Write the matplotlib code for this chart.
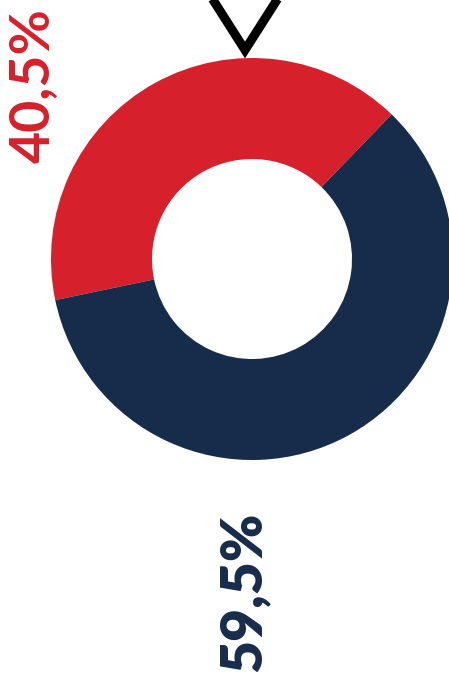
import matplotlib
matplotlib.use("Agg")
import matplotlib.pyplot as plt

# data
labels = ["40,5%", "59,5%"]
values = [40.5, 59.5]
colors = ["#D6202B", "#162C4A"]

W, H = 449, 675
fig = plt.figure(figsize=(W / 100, H / 100), dpi=100)
ax = fig.add_axes([0, 0, 1, 1])

cx, cy, r = 252, H - 259, 201
ax.pie(values, colors=colors, startangle=46, counterclock=True,
       center=(cx, cy), radius=r, frame=False,
       wedgeprops=dict(width=r - 100, linewidth=0))

# chevron at the top
ax.plot([208, 245, 282], [H + 8, H - 50, H + 8], color="black",
        lw=6.5, solid_joinstyle="miter", solid_capstyle="butt")

# rotated labels
ax.text(33, H - 86, labels[0], rotation=90, ha="center", va="center",
        color=colors[0], fontsize=40, family="Lato", fontweight="bold")
ax.text(243, H - 592, labels[1], rotation=90, ha="center", va="center",
        color=colors[1], fontsize=41, family="Lato", fontweight="heavy")

ax.set_xlim(0, W)
ax.set_ylim(0, H)
ax.set_aspect("auto")
ax.axis("off")

fig.savefig("out.png", dpi=100)
